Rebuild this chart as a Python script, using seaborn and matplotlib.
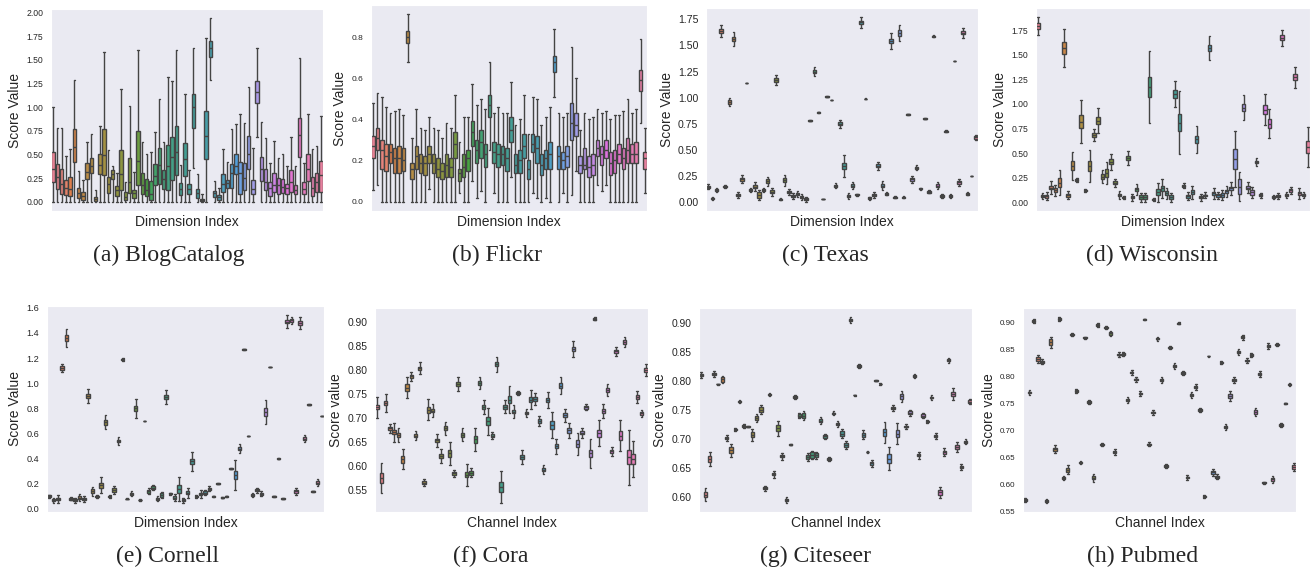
import matplotlib
matplotlib.use("Agg")
import matplotlib.pyplot as plt
from matplotlib.ticker import MultipleLocator
import pandas as pd
import seaborn as sns

# ---- (a) BlogCatalog: whisker low, q1, median, q3, whisker high per dimension
a_lo = [0, 0, 0, 0, 0, 0, 0, 0, 0, 0, 0, 0, 0, 0, 0, 0, 0, 0, 0, 0, 0, 0, 0, 0, 0, 0, 0, 0, 0, 0, 0, 0,
        0, .36, 0, 0, 0, 1.29, 0, 0, 0, 0, 0, 0, 0, 0, 0, 0, .69, 0, 0, 0, 0, 0, 0, 0, 0, 0, 0, 0, 0, 0, 0, 0]
a_q1 = [.21, .14, .08, .07, .06, .42, .04, .02, .24, .30, .01, .29, .28, .09, .24, .06, .12, .02, .09, .04,
        .18, .08, .06, .02, .18, .19, .14, .12, .23, .28, .07, .27,
        .08, .78, .04, .005, .45, 1.53, .05, .02, .10, .15, .15, .29, .08, .12, .35, .08, 1.04, .22,
        .13, .06, .10, .08, .09, .08, .10, .08, .47, .08, .22, .06, .10, .10]
a_med = [.35, .26, .19, .15, .14, .58, .09, .06, .31, .38, .03, .39, .49, .19, .29, .12, .29, .05, .21, .09,
         .43, .18, .13, .08, .27, .39, .24, .38, .47, .53, .14, .45,
         .14, 1.00, .09, .02, .70, 1.62, .09, .05, .19, .20, .30, .38, .30, .25, .50, .14, 1.16, .35,
         .21, .15, .18, .18, .16, .15, .21, .12, .71, .14, .35, .15, .21, .28]
a_q3 = [.53, .40, .35, .23, .26, .77, .15, .10, .41, .46, .05, .50, .77, .26, .34, .17, .55, .10, .46, .13,
        .75, .30, .24, .22, .40, .57, .34, .60, .68, .80, .20, .62,
        .19, 1.14, .14, .035, .96, 1.70, .11, .07, .29, .23, .40, .50, .42, .41, .70, .23, 1.28, .47,
        .35, .21, .30, .25, .24, .19, .34, .18, .89, .21, .50, .26, .30, .43]
a_hi = [1.00, .78, .78, .48, .56, 1.29, .33, .23, .63, .72, .12, .80, 1.58, .55, .38, .30, 1.19, .21, 1.01, .31,
        1.60, .63, .50, .53, .74, 1.09, .63, 1.32, 1.28, 1.60, .39, 1.14,
        .34, 1.62, .29, .08, 1.73, 1.94, .22, .15, .56, .42, .77, .82, .93, .83, 1.21, .57, 1.62, .84,
        .67, .41, .64, .46, .50, .38, .69, .38, 1.52, .41, .93, .56, .59, .91]

# ---- (b) Flickr
b_lo = [.055, .08, 0, 0, 0, 0, 0, 0, .68, 0, 0, 0, 0, .06, 0, 0, 0, 0, 0, 0,
        .04, 0, 0, .10, .02, .05, 0, .25, .04, 0, 0, 0, .12, 0, 0, 0, 0, .04, .02, 0,
        .02, 0, .51, 0, .04, 0, .03, .15, 0, 0, 0, 0, .08, .05, .08, 0, 0, 0, 0, 0, 0, 0, .38, .04]
b_q1 = [.21, .25, .16, .15, .19, .14, .14, .15, .77, .11, .16, .14, .13, .19, .14, .12, .11, .12, .12, .21,
        .10, .12, .15, .27, .19, .21, .17, .41, .19, .17, .18, .15, .29, .14, .14, .21, .11, .24, .19, .13,
        .16, .16, .63, .16, .16, .17, .30, .32, .14, .16, .12, .13, .22, .18, .21, .13, .14, .19, .16, .19,
        .19, .19, .54, .16]
b_med = [.27, .31, .25, .22, .24, .21, .21, .20, .80, .16, .22, .19, .19, .23, .19, .16, .15, .18, .17, .28,
         .14, .17, .21, .34, .25, .29, .23, .47, .24, .23, .23, .21, .35, .18, .20, .27, .16, .28, .26, .18,
         .21, .23, .68, .22, .20, .22, .38, .37, .18, .18, .17, .18, .26, .23, .25, .19, .20, .23, .21, .25,
         .23, .23, .59, .21]
b_q3 = [.32, .36, .30, .28, .28, .26, .27, .26, .83, .19, .27, .23, .22, .27, .23, .21, .19, .23, .21, .34,
        .16, .23, .25, .39, .30, .35, .28, .52, .29, .28, .27, .26, .41, .23, .25, .33, .20, .33, .32, .23,
        .25, .29, .71, .27, .24, .27, .48, .43, .22, .26, .22, .23, .30, .27, .30, .24, .25, .28, .26, .31,
        .28, .29, .64, .24]
b_hi = [.48, .53, .51, .46, .43, .44, .45, .42, .91, .31, .45, .36, .35, .41, .36, .35, .31, .38, .36, .52,
        .29, .41, .41, .57, .47, .50, .45, .68, .43, .46, .43, .43, .58, .37, .40, .52, .33, .51, .50, .37,
        .41, .46, .84, .43, .41, .43, .75, .60, .35, .43, .40, .41, .45, .43, .44, .40, .42, .42, .44, .50,
        .43, .45, .79, .36]

# ---- (c)-(h): median, box height (IQR) and whisker span per dimension / channel
c_med = [.15, .04, .12, 1.64, .15, .96, 1.56, .07, .22, 1.14, .12, .15, .07, .12, .20, .10, 1.17, .03, .21, .10,
         .06, .08, .05, .03, .78, 1.25, .86, .03, 1.01, .98, .16, .75, .35, .06, .16, .07, 1.72, .99, .04, .07,
         .35, .16, .08, 1.54, .05, 1.62, .05, .84, .22, .33, .13, .80, .10, 1.59, .16, .06, .68, .06, 1.35, .19,
         1.62, .08, .25, .62]
c_iqr = [.02, .01, .015, .04, .01, .04, .04, .02, .03, .004, .015, .03, .05, .015, .04, .03, .04, .01, .04, .02,
         .02, .02, .02, .02, .006, .03, .004, .004, .006, .004, .02, .03, .06, .02, .03, .01, .03, .004, .015, .02,
         .03, .03, .015, .04, .01, .05, .01, .006, .03, .02, .01, .004, .015, .01, .03, .015, .01, .015, .004, .03,
         .03, .02, .004, .02]
c_wh = [.05, .03, .04, .12, .03, .08, .13, .05, .08, .006, .04, .08, .09, .04, .08, .08, .10, .02, .11, .06,
        .05, .06, .06, .05, .01, .08, .006, .006, .01, .006, .04, .07, .21, .05, .07, .02, .10, .006, .03, .06,
        .08, .08, .03, .15, .02, .15, .025, .01, .07, .05, .02, .006, .03, .02, .06, .03, .02, .03, .006, .06,
        .09, .03, .006, .05]

d_med = [1.79, .06, .06, .15, .12, .20, 1.57, .07, .37, .23, .82, .12, .37, .68, .83, .26, .30, .41, .20, .07,
         .05, .45, .05, .13, .05, .05, 1.17, .03, .10, .14, .09, .05, 1.10, .81, .17, .06, .10, .64, .05, .07,
         1.57, .09, .07, .07, .11, .14, .44, .16, .96, .15, .10, .41, .07, .94, .80, .05, .06, 1.67, .07, .12,
         1.27, .09, .07, .56]
d_iqr = [.06, .02, .03, .04, .04, .09, .12, .03, .09, .02, .14, .015, .10, .04, .07, .05, .08, .05, .03, .02,
         .015, .05, .02, .04, .04, .04, .21, .015, .06, .05, .04, .04, .09, .18, .02, .03, .04, .07, .02, .015,
         .06, .03, .03, .04, .03, .03, .21, .16, .07, .04, .05, .02, .02, .09, .10, .02, .02, .05, .02, .03,
         .06, .03, .02, .12]
d_wh = [.18, .06, .08, .14, .12, .25, .39, .08, .29, .04, .44, .025, .33, .12, .25, .13, .22, .16, .08, .08,
        .03, .15, .07, .12, .09, .09, .73, .03, .19, .19, .11, .09, .27, .64, .06, .08, .14, .27, .07, .06,
        .24, .12, .07, .10, .11, .14, .57, .30, .25, .11, .11, .08, .05, .31, .30, .04, .06, .17, .06, .08,
        .21, .11, .06, .41]

e_med = [.10, .07, .08, 1.12, 1.36, .08, .07, .09, .08, .90, .14, .10, .19, .69, .10, .15, .54, 1.19, .08, .12,
         .80, .07, .70, .14, .17, .08, .11, .89, .12, .09, .16, .07, .13, .38, .10, .12, .13, .16, .10, .20,
         .09, .10, .32, .27, .48, 1.27, .58, .11, .15, .12, .77, 1.13, .10, .40, .08, 1.49, 1.50, .14, 1.48, .56,
         .83, .14, .21, .74]
e_iqr = [.015, .02, .02, .03, .05, .015, .02, .02, .02, .03, .03, .01, .04, .04, .01, .03, .02, .01, .004, .02,
         .04, .006, .004, .02, .02, .02, .03, .03, .01, .02, .06, .02, .02, .04, .01, .02, .02, .02, .006, .006,
         .006, .006, .004, .06, .03, .004, .004, .01, .02, .02, .06, .004, .006, .004, .006, .02, .02, .02, .03, .02,
         .004, .004, .02, .004]
e_wh = [.025, .04, .06, .06, .15, .025, .04, .05, .05, .11, .07, .02, .12, .11, .02, .07, .06, .02, .006, .04,
        .15, .01, .006, .05, .04, .04, .05, .11, .02, .06, .19, .04, .08, .15, .02, .06, .04, .04, .01, .01,
        .01, .01, .006, .24, .07, .006, .006, .03, .04, .04, .19, .006, .01, .006, .01, .10, .05, .06, .09, .06,
        .006, .006, .06, .006]

f_med = [.722, .575, .731, .678, .670, .664, .614, .763, .786, .663, .803, .565, .717, .715, .653, .621, .678,
         .626, .585, .770, .665, .582, .586, .655, .772, .722, .693, .663, .811, .556, .723, .738, .713, .751,
         .618, .710, .738, .739, .693, .592, .737, .685, .641, .767, .705, .674, .843, .646, .669, .722, .626,
         .906, .668, .714, .758, .630, .838, .663, .858, .618, .614, .743, .709, .800]
f_iqr = [.008, .020, .008, .006, .008, .007, .014, .015, .006, .006, .007, .006, .012, .006, .008, .008, .008,
         .016, .006, .008, .008, .010, .008, .014, .007, .008, .016, .006, .008, .020, .008, .016, .008, .004,
         .008, .006, .010, .008, .008, .006, .010, .016, .008, .012, .008, .010, .010, .014, .006, .006, .016,
         .004, .014, .008, .008, .006, .006, .018, .008, .030, .020, .008, .006, .008]
f_wh = [.044, .062, .036, .018, .040, .028, .042, .045, .018, .020, .025, .014, .044, .026, .028, .030, .028,
        .047, .014, .028, .026, .046, .020, .046, .024, .030, .056, .016, .030, .065, .026, .056, .026, .008,
        .030, .018, .040, .024, .020, .018, .032, .054, .032, .036, .026, .032, .033, .046, .020, .012, .062,
        .006, .054, .030, .024, .018, .018, .066, .022, .114, .075, .024, .016, .025]

g_med = [.811, .605, .666, .813, .795, .803, .702, .681, .717, .765, .723, .722, .708, .737, .751, .616, .777,
         .640, .719, .671, .596, .691, .773, .741, .741, .669, .673, .673, .732, .705, .666, .745, .726, .710,
         .690, .905, .776, .826, .708, .678, .659, .801, .795, .712, .667, .754, .710, .774, .722, .746, .809,
         .673, .741, .731, .772, .706, .609, .678, .836, .778, .687, .652, .696, .765]
g_iqr = [.004, .010, .010, .004, .001, .007, .004, .010, .002, .003, .003, .001, .008, .006, .008, .003, .002,
         .004, .010, .004, .004, .001, .003, .004, .008, .007, .009, .006, .006, .004, .003, .002, .004, .008,
         .008, .004, .001, .003, .007, .001, .005, .001, .001, .012, .014, .004, .012, .008, .003, .004, .003,
         .004, .004, .002, .003, .004, .008, .005, .003, .006, .008, .004, .003, .004]
g_wh = [.010, .023, .025, .010, .002, .013, .010, .022, .004, .006, .006, .002, .020, .013, .016, .008, .006,
        .012, .025, .012, .010, .003, .008, .010, .014, .014, .015, .012, .012, .010, .008, .006, .010, .015,
        .014, .010, .002, .008, .015, .003, .012, .002, .003, .037, .041, .010, .035, .018, .008, .010, .008,
        .012, .010, .005, .008, .010, .019, .014, .008, .019, .016, .010, .008, .010]

h_med = [.571, .770, .902, .832, .827, .569, .863, .665, .906, .612, .627, .877, .773, .640, .871, .752, .612,
         .895, .673, .890, .879, .660, .840, .841, .756, .807, .794, .768, .905, .674, .733, .869, .793, .634,
         .853, .819, .898, .806, .613, .765, .780, .737, .578, .837, .622, .614, .825, .706, .763, .793, .845,
         .872, .829, .839, .734, .804, .603, .856, .609, .858, .710, .750, .785, .632]
h_iqr = [.003, .003, .003, .008, .004, .003, .010, .006, .003, .003, .007, .002, .003, .002, .002, .003, .006,
         .003, .002, .002, .004, .004, .003, .002, .003, .003, .003, .003, .001, .003, .003, .002, .004, .002,
         .002, .003, .002, .003, .003, .003, .003, .003, .002, .001, .004, .003, .002, .004, .008, .004, .003,
         .003, .003, .003, .007, .003, .002, .003, .004, .002, .003, .001, .002, .006]
h_wh = [.006, .008, .008, .016, .010, .006, .020, .014, .006, .008, .016, .006, .008, .006, .004, .008, .014,
        .008, .006, .004, .010, .012, .008, .006, .010, .010, .010, .010, .002, .008, .010, .006, .012, .006,
        .006, .010, .004, .008, .010, .010, .010, .008, .006, .002, .012, .010, .006, .012, .018, .012, .010,
        .010, .010, .008, .016, .010, .004, .010, .012, .006, .008, .002, .006, .014]

captions = ["(a) BlogCatalog", "(b) Flickr", "(c) Texas", "(d) Wisconsin",
            "(e) Cornell", "(f) Cora", "(g) Citeseer", "(h) Pubmed"]


def five_numbers(med, iqr, wh):
    lo = [m - w / 2 for m, w in zip(med, wh)]
    q1 = [m - b / 2 for m, b in zip(med, iqr)]
    q3 = [m + b / 2 for m, b in zip(med, iqr)]
    hi = [m + w / 2 for m, w in zip(med, wh)]
    return lo, q1, med, q3, hi


def draw(ax, stats, xlabel, ylabel, step, tick_fs):
    lo, q1, med, q3, hi = stats
    names = [str(i) for i in range(len(med))]
    rows = []
    for i, name in enumerate(names):
        for v in (lo[i], q1[i], med[i], q3[i], hi[i]):
            rows.append((name, v))
    df = pd.DataFrame(rows, columns=["dim", "score"])
    sns.boxplot(data=df, x="dim", y="score", hue="dim", order=names, hue_order=names,
                palette=sns.color_palette("husl", len(names)), legend=False,
                whis=(0, 100), showfliers=False, linewidth=1.0, linecolor="#444444", ax=ax)
    ax.set_xticks([])
    ax.set_xlabel(xlabel, fontsize=10, labelpad=3)
    ax.set_ylabel(ylabel, fontsize=10, labelpad=3)
    ax.yaxis.set_major_locator(MultipleLocator(step))
    ax.tick_params(axis="y", labelsize=tick_fs, pad=2)


sns.set_style("dark")
plt.rcParams["font.family"] = ["Liberation Sans", "DejaVu Sans"]

fig = plt.figure(figsize=(13.11, 5.74), dpi=100)
W, H = 1311, 574
# axes boxes in pixels: left, right, top, bottom
boxes = [(51, 323, 9, 211), (371, 647, 5, 211), (706, 978, 8, 211), (1036, 1310, 8, 211),
         (47, 324, 306, 512), (375, 648, 308, 512), (699, 972, 308, 512), (1023, 1296, 308, 512)]
axes = [fig.add_axes([l / W, 1 - b / H, (r - l) / W, (b - t) / H]) for l, r, t, b in boxes]

draw(axes[0], (a_lo, a_q1, a_med, a_q3, a_hi), "Dimension Index", "Score Value", 0.25, 6.2)
draw(axes[1], (b_lo, b_q1, b_med, b_q3, b_hi), "Dimension Index", "Score Value", 0.2, 6.0)
draw(axes[2], five_numbers(c_med, c_iqr, c_wh), "Dimension Index", "Score Value", 0.25, 7.6)
draw(axes[3], five_numbers(d_med, d_iqr, d_wh), "Dimension Index", "Score Value", 0.25, 6.2)
draw(axes[4], five_numbers(e_med, e_iqr, e_wh), "Dimension Index", "Score Value", 0.2, 6.6)
draw(axes[5], five_numbers(f_med, f_iqr, f_wh), "Channel Index", "Score value", 0.05, 7.4)
draw(axes[6], five_numbers(g_med, g_iqr, g_wh), "Channel Index", "Score value", 0.05, 7.4)
draw(axes[7], five_numbers(h_med, h_iqr, h_wh), "Channel Index", "Score value", 0.05, 5.8)

cap_x = [169, 497, 825, 1152, 167, 491, 815, 1143]
for k, text in enumerate(captions):
    y = 255 if k < 4 else 556
    fig.text(cap_x[k] / W, 1 - y / H, text, ha="center", va="center",
             fontsize=17, family="Liberation Serif")

fig.savefig("out.png", dpi=100)
